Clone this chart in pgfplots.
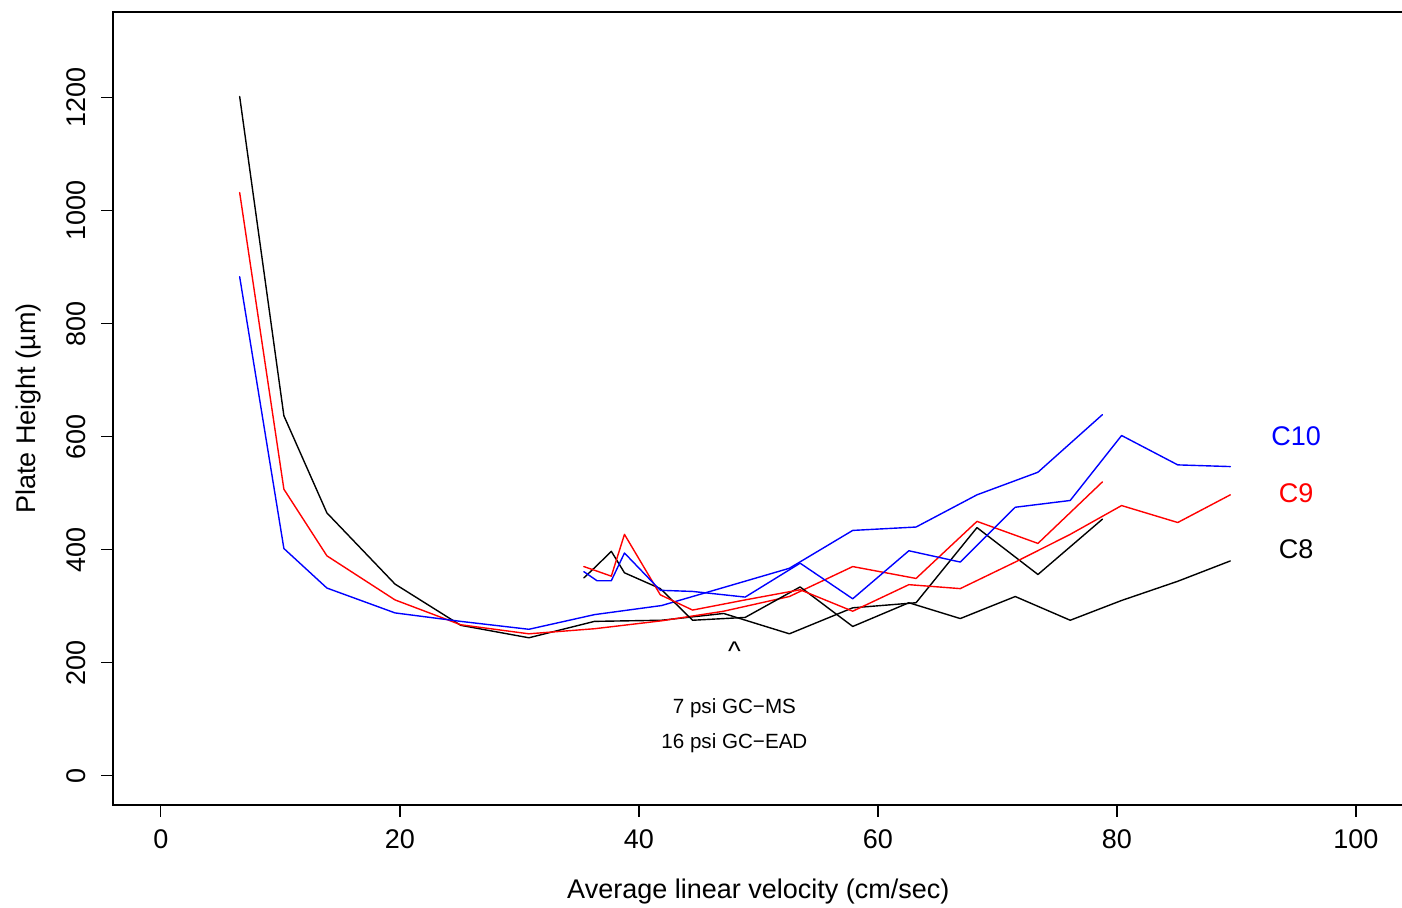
\documentclass[border=0pt]{standalone}
\usepackage{fontspec}
\setmainfont{Liberation Sans}
\usepackage{pgfplots}
\usepackage{pgfplotstable}
\pgfplotsset{compat=1.18}
% set A: runs starting at low velocity
\pgfplotstableread{
x     c8    c9    c10
6.6   1202  1032  883
10.3  637   507   402
13.9  465   389   332
19.6  339   311   288
25.1  266   267   273
30.8  244   251   259
36.3  273   260   285
41.9  275   274   301
47.1  287   291   333
52.6  251   317   367
57.9  297   370   434
63.2  306   349   440
68.3  439   450   497
73.4  356   411   537
78.8  454   520   639
}\setA
% set B: runs starting near 35 cm/sec
\pgfplotstableread{
x     c8    c9    c10
35.4  350   370   361
36.5  372   362   345
37.7  397   353   345
38.8  359   427   394
41.8  331   320   328
44.5  275   293   326
48.9  280   311   316
53.5  334   329   376
57.9  264   291   313
62.6  306   338   398
66.9  278   331   378
71.5  317   378   475
76.1  275   427   487
80.4  310   478   602
85.1  344   448   550
89.5  380   497   547
}\setB
\newcommand{\lab}{\fontsize{13.5}{16}\selectfont}
\newcommand{\sml}{\fontsize{10.3}{12}\selectfont}
\begin{document}
\begin{tikzpicture}
\useasboundingbox (-56.5pt,-51.5pt) rectangle (644.5pt,402.5pt);
\begin{axis}[
  at={(0pt,0pt)}, anchor=south west,
  scale only axis, width=645.3pt, height=396.6pt,
  xmin=-4, xmax=104, ymin=-52, ymax=1352,
  xtick={0,20,...,100}, ytick={0,200,...,1200},
  tick align=outside, major tick length=6pt,
  tick style={line width=0.7pt, black},
  xtick pos=bottom, ytick pos=left,
  axis line style={line width=0.9pt},
  /pgf/number format/assume math mode=true,
  /pgf/number format/set thousands separator={},
  scaled ticks=false,
  xticklabel style={font=\lab, inner sep=0pt, anchor=north, yshift=-6pt},
  yticklabel style={font=\lab, inner sep=0pt, xshift=-7.5pt, rotate=90, anchor=south},
  clip=false,
]
\addplot[black, line width=0.7pt, line join=round, line cap=round] table[x=x,y=c8] {\setA};
\addplot[red,   line width=0.7pt, line join=round, line cap=round] table[x=x,y=c9] {\setA};
\addplot[blue,  line width=0.7pt, line join=round, line cap=round] table[x=x,y=c10] {\setA};
\addplot[black, line width=0.7pt, line join=round, line cap=round] table[x=x,y=c8] {\setB};
\addplot[red,   line width=0.7pt, line join=round, line cap=round] table[x=x,y=c9] {\setB};
\addplot[blue,  line width=0.7pt, line join=round, line cap=round] table[x=x,y=c10] {\setB};
\node[font=\lab, text=blue,  anchor=center, inner sep=0pt] at (axis cs:95,600) {C10};
\node[font=\lab, text=red,   anchor=center, inner sep=0pt] at (axis cs:95,500) {C9};
\node[font=\lab, text=black, anchor=center, inner sep=0pt] at (axis cs:95,400) {C8};
\node[font=\lab, anchor=base, inner sep=0pt] at (axis cs:48,204) {\textasciicircum};
\node[font=\sml, anchor=base, inner sep=0pt] at (axis cs:48,110) {7 psi GC−MS};
\node[font=\sml, anchor=base, inner sep=0pt] at (axis cs:48,48) {16 psi GC−EAD};
\node[font=\lab, anchor=base, inner sep=0pt] at (axis description cs:0.5,-0.1185) {Average linear velocity (cm/sec)};
\node[font=\lab, anchor=base, inner sep=0pt, rotate=90] at (axis description cs:-0.0604,0.5) {Plate Height (µm)};
\end{axis}
\end{tikzpicture}
\end{document}
